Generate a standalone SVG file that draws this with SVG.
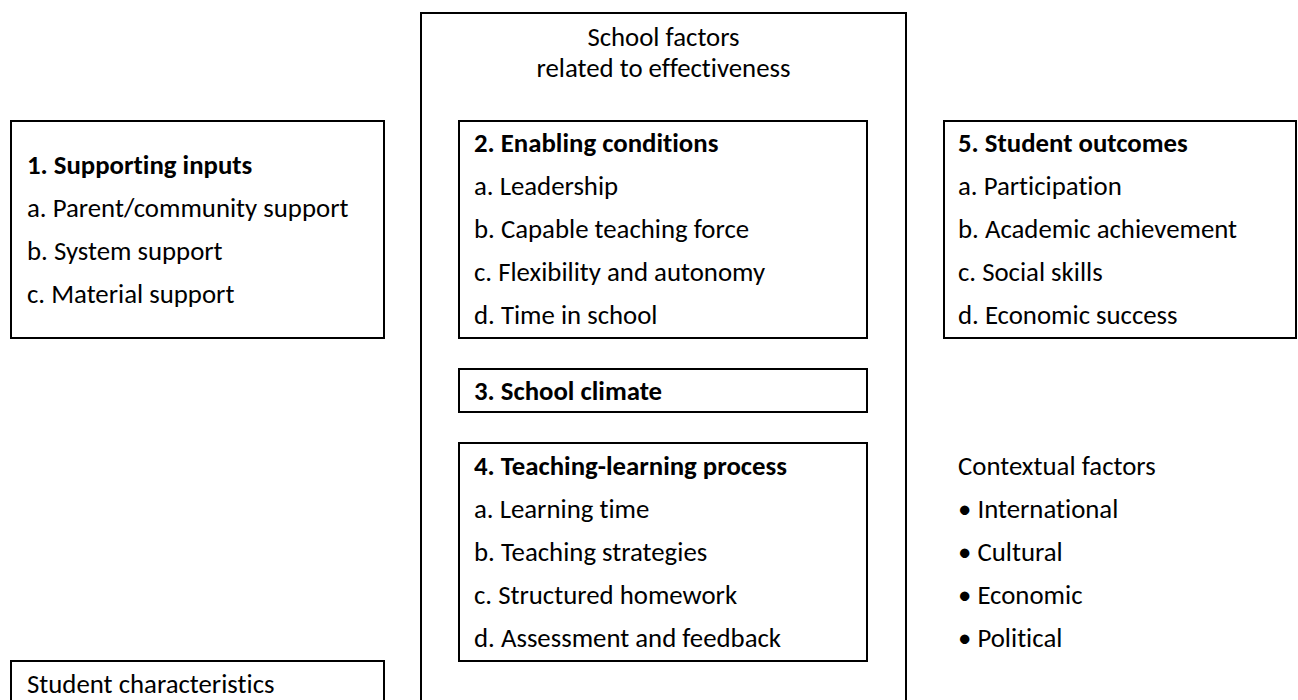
<svg xmlns="http://www.w3.org/2000/svg" width="1298" height="700" viewBox="0 0 1298 700">
<style>
rect{fill:none;stroke:#000;stroke-width:2}
text{font-family:Carlito,Calibri,Lato,"Liberation Sans",sans-serif;font-size:26.8px;fill:#000;font-variant-ligatures:none}
.b{font-weight:bold}
.c{text-anchor:middle}
</style>
<rect width="1298" height="700" fill="#fff" style="fill:#fff;stroke:none"/>
<g id="school-factors">
<rect x="421" y="13" width="485" height="720"/>
<text class="c" x="663.5" y="46">School factors</text>
<text class="c" x="663.5" y="77">related to effectiveness</text>
</g>
<g id="supporting-inputs">
<rect x="11" y="121" width="373" height="217"/>
<text class="b" x="27" y="174">1. Supporting inputs</text>
<text x="27" y="217">a. Parent/community support</text>
<text x="27" y="260">b. System support</text>
<text x="27" y="303">c. Material support</text>
</g>
<g id="enabling-conditions">
<rect x="459" y="121" width="408" height="217"/>
<text class="b" x="474" y="152">2. Enabling conditions</text>
<text x="474" y="195">a. Leadership</text>
<text x="474" y="238">b. Capable teaching force</text>
<text x="474" y="281">c. Flexibility and autonomy</text>
<text x="474" y="324">d. Time in school</text>
</g>
<g id="school-climate">
<rect x="459" y="369" width="408" height="43"/>
<text class="b" x="474" y="400">3. School climate</text>
</g>
<g id="teaching-learning">
<rect x="459" y="443" width="408" height="218"/>
<text class="b" x="474" y="475">4. Teaching-learning process</text>
<text x="474" y="518">a. Learning time</text>
<text x="474" y="561">b. Teaching strategies</text>
<text x="474" y="604">c. Structured homework</text>
<text x="474" y="647">d. Assessment and feedback</text>
</g>
<g id="student-outcomes">
<rect x="944" y="121" width="352" height="217"/>
<text class="b" x="958" y="152">5. Student outcomes</text>
<text x="958" y="195">a. Participation</text>
<text x="958" y="238">b. Academic achievement</text>
<text x="958" y="281">c. Social skills</text>
<text x="958" y="324">d. Economic success</text>
</g>
<g id="contextual-factors">
<text x="958" y="475">Contextual factors</text>
<text x="958" y="518">• International</text>
<text x="958" y="561">• Cultural</text>
<text x="958" y="604">• Economic</text>
<text x="958" y="647">• Political</text>
</g>
<g id="student-characteristics">
<rect x="11" y="661" width="373" height="80"/>
<text x="27" y="693">Student characteristics</text>
</g>
<g id="connectors"/>
</svg>
